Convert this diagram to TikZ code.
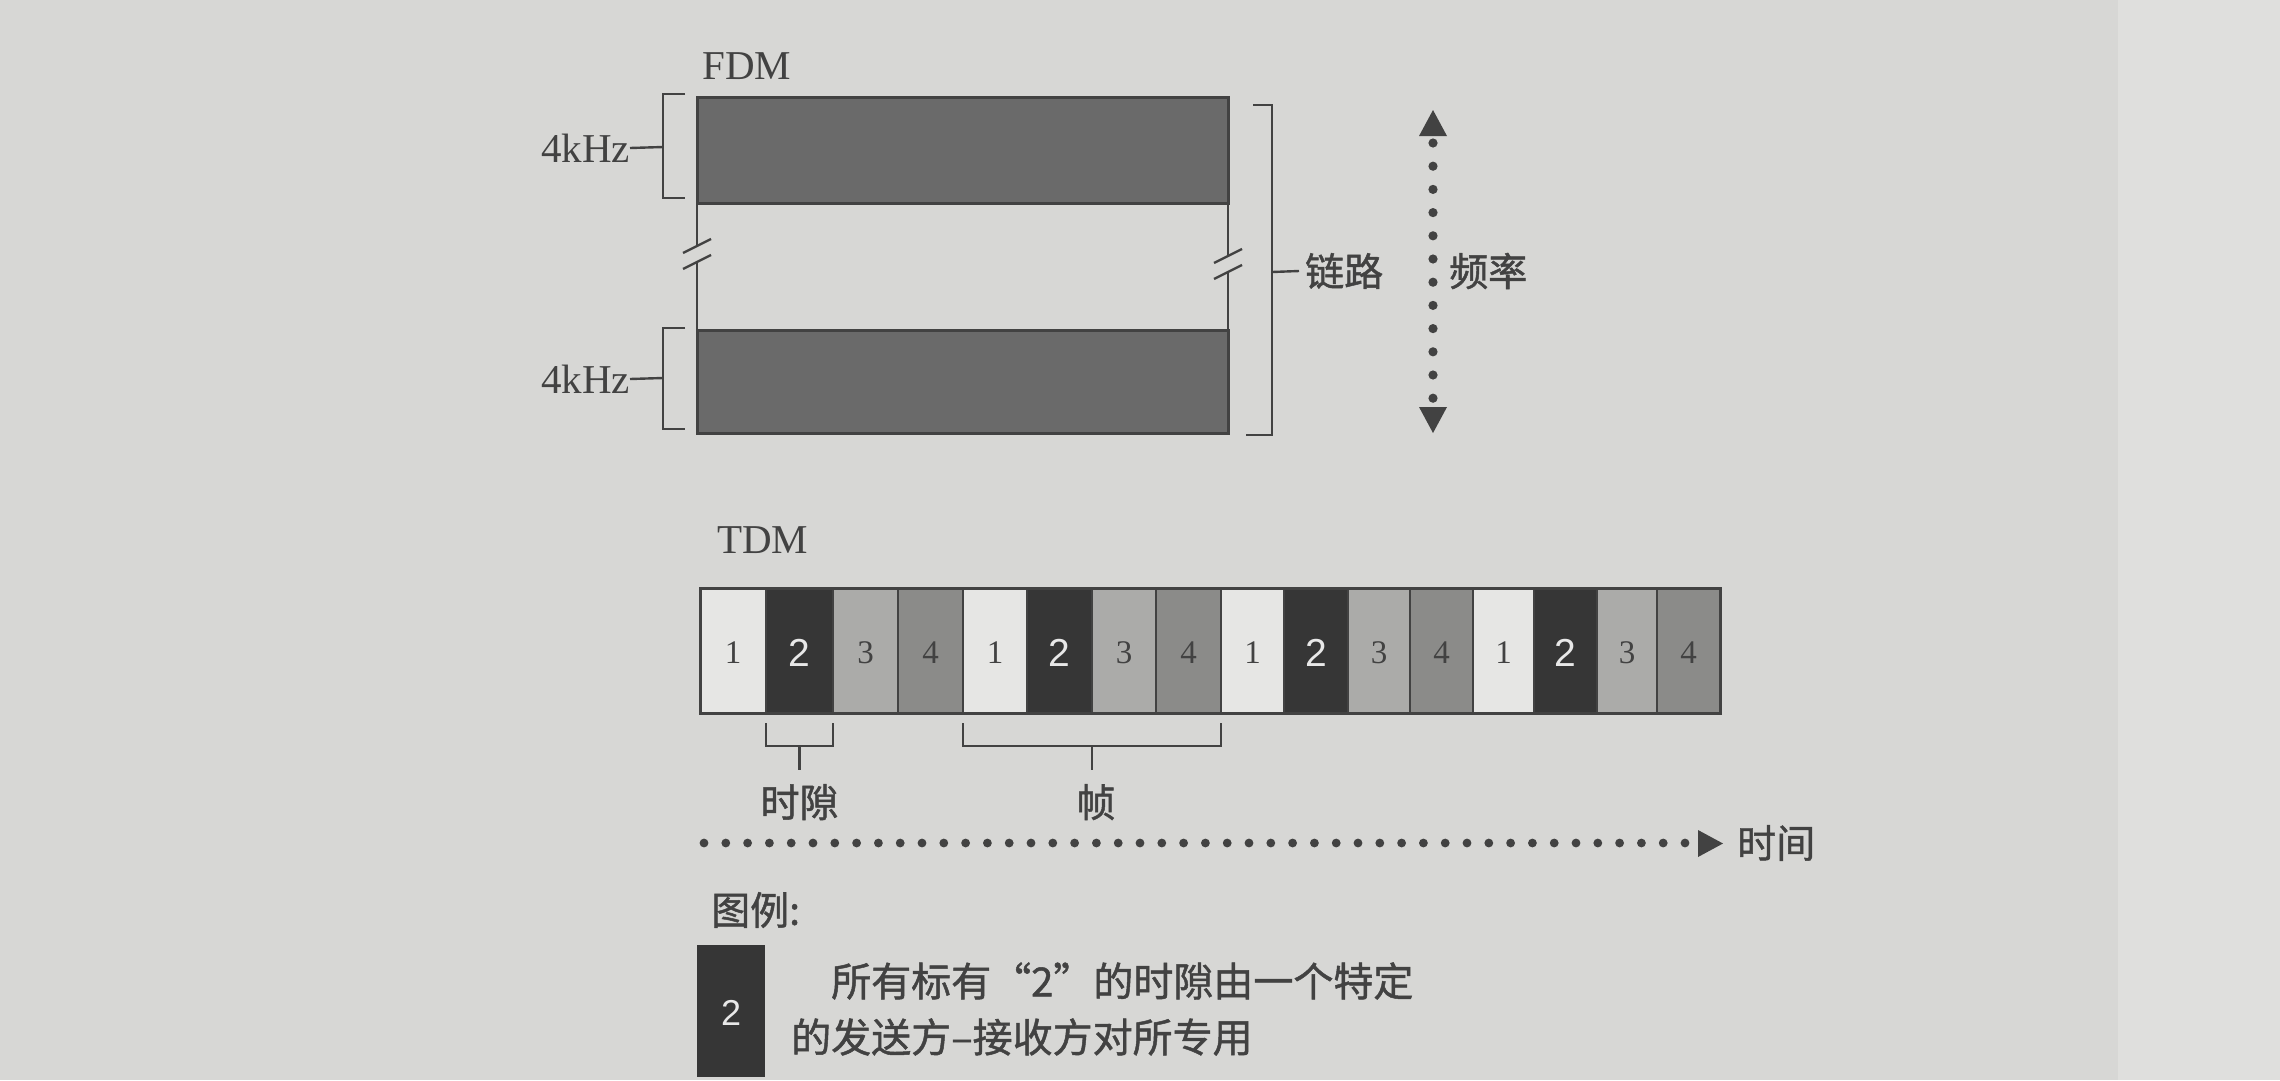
\documentclass[tikz,border=0pt]{standalone}
\usepackage{fontspec}
\setmainfont{Liberation Serif}
\newfontfamily\cjk[FakeBold=1.2]{Noto Sans CJK SC}
\newfontfamily\arialf{Liberation Sans}
\usetikzlibrary{calc}
\definecolor{bg}{HTML}{D7D7D5}
\definecolor{pagebg}{HTML}{DFDFDD}
\definecolor{ink}{HTML}{424242}
\definecolor{fdmbar}{HTML}{6A6A6A}
\definecolor{cA}{HTML}{E6E6E4}
\definecolor{cB}{HTML}{363636}
\definecolor{cC}{HTML}{ABABA9}
\definecolor{cD}{HTML}{8B8B89}
\definecolor{wdigit}{HTML}{E8E8E8}
\tikzset{
  bandbox/.style={draw=ink, fill=fdmbar, line width=3pt, inner sep=0pt, outer sep=0pt, anchor=north west},
  cellbox/.style={draw=ink, line width=2.5pt, inner sep=0pt, outer sep=0pt, anchor=north west, minimum height=125pt},
  brk/.style={draw=ink, line width=2.4pt},
  lat/.style={text=ink, font=\fontsize{41}{49}\selectfont, inner sep=0pt},
  zh/.style={text=ink, font=\cjk\fontsize{39}{46}\selectfont, inner sep=0pt},
  zhl/.style={text=ink, font=\cjk\fontsize{40}{48}\selectfont, inner sep=0pt},
  serifdigit/.style={text=ink, font=\fontsize{33}{40}\selectfont},
  sansdigit/.style={text=wdigit, font=\arialf\fontsize{39}{46}\selectfont},
  dotmark/.style={fill=ink}
}
\begin{document}
\begin{tikzpicture}[x=1pt,y=-1pt]
\fill[bg] (0,0) rectangle (2280,1080);
\fill[pagebg] (2118,0) rectangle (2280,1080);
\useasboundingbox (0,0) rectangle (2280,1080);

% ---------------- FDM ----------------
\node[lat, anchor=west] (fdm) at (702,66) {FDM};
\node[bandbox, minimum width=531pt, minimum height=106pt] (bar1) at (697,97) {};
\node[bandbox, minimum width=531pt, minimum height=103pt] (bar2) at (697,330) {};

% left side with break
\coordinate (lb1) at (697,246);
\coordinate (lb2) at (697,262);
\draw[brk] (lb1 |- bar1.south) -- (lb1);
\draw[brk] (lb2) -- (lb2 |- bar2.north);
\draw[brk] ($(lb1)+(-14,7)$) -- ($(lb1)+(14,-7)$);
\draw[brk] ($(lb2)+(-14,7)$) -- ($(lb2)+(14,-7)$);
% right side with break
\coordinate (rb1) at (1228,256);
\coordinate (rb2) at (1228,272);
\draw[brk] (rb1 |- bar1.south) -- (rb1);
\draw[brk] (rb2) -- (rb2 |- bar2.north);
\draw[brk] ($(rb1)+(-14,7)$) -- ($(rb1)+(14,-7)$);
\draw[brk] ($(rb2)+(-14,7)$) -- ($(rb2)+(14,-7)$);

% left brackets and 4kHz labels
\draw[brk] (685,94) -- (663,94) -- (663,198) -- (685,198);
\coordinate (lt1) at (663,147);
\node[lat, anchor=east] (khz1) at (630,148) {4kHz};
\draw[brk] (khz1.east) -- (lt1);
\draw[brk] (685,328) -- (663,328) -- (663,429) -- (685,429);
\coordinate (lt2) at (663,378);
\node[lat, anchor=east] (khz2) at (630,379) {4kHz};
\draw[brk] (khz2.east) -- (lt2);

% right bracket and link label
\draw[brk] (1253,105) -- (1272,105) -- (1272,435) -- (1246,435);
\coordinate (rt) at (1272,272);
\node[zh, anchor=west] (link) at (1305,271) {链路};
\draw[brk] (rt) -- ($(link.west)+(-6,0)$);

% frequency dotted arrow
\foreach \i in {0,...,11} {
  \fill[dotmark] (1433,{143+\i*23.2}) circle (4.6pt);
}
\fill[ink] (1433,110) -- (1419,136) -- (1447,136) -- cycle;
\fill[ink] (1433,433) -- (1419,407) -- (1447,407) -- cycle;
\node[zh, anchor=west] (freq) at (1449,271) {频率};

% ---------------- TDM ----------------
\node[lat, anchor=west] (tdm) at (717,540) {TDM};
\foreach \a/\b/\n/\c [count=\k] in {
  700/766/1/cA, 766/833/2/cB, 833/898/3/cC, 898/963/4/cD,
  963/1027/1/cA, 1027/1092/2/cB, 1092/1156/3/cC, 1156/1221/4/cD,
  1221/1284/1/cA, 1284/1348/2/cB, 1348/1410/3/cC, 1410/1473/4/cD,
  1473/1534/1/cA, 1534/1597/2/cB, 1597/1657/3/cC, 1657/1720/4/cD} {
  \pgfmathsetmacro{\w}{\b-\a}
  \node[cellbox, fill=\c, minimum width=\w pt] (c\k) at (\a,588) {};
  \ifnum\n=2
    \node[sansdigit] at ($(c\k.center)+(0,2)$) {\n};
  \else
    \node[serifdigit] at ($(c\k.center)+(0,2)$) {\n};
  \fi
}
\draw[draw=ink, line width=3pt] (c1.north west) rectangle (c16.south east);

% slot bracket
\coordinate (sL) at ($(c2.south west)+(0,10)$);
\coordinate (sR) at ($(c2.south east)+(0,10)$);
\draw[brk] (sL) -- ++(0,23) -| (sR);
\coordinate (sM) at ($(sL)!0.5!(sR)+(0,23)$);
\draw[brk] (sM) -- ++(0,24);
\node[zh, anchor=north] (slot) at ($(sM)+(0,38)$) {时隙};

% frame bracket
\coordinate (fL) at ($(c5.south west)+(0,10)$);
\coordinate (fR) at ($(c8.south east)+(0,10)$);
\draw[brk] (fL) -- ++(0,23) -| (fR);
\coordinate (fM) at ($(fL)!0.5!(fR)+(0,23)$);
\draw[brk] (fM) -- ++(0,24);
\node[zh, anchor=north] (frame) at ($(fM)+(4,38)$) {帧};

% time dotted arrow
\foreach \i in {0,...,45} {
  \fill[dotmark] ({704+\i*21.8},843) circle (4.4pt);
}
\fill[ink] (1723,843.5) -- (1698,830) -- (1698,857) -- cycle;
\node[zh, anchor=west] (time) at (1737,843) {时间};

% ---------------- legend ----------------
\node[zh, anchor=west] (legend) at (711,910) {图例:};
\node[fill=cB, draw=none, minimum width=68pt, minimum height=132pt, inner sep=0pt, anchor=north west] (lbox) at (697,945) {};
\node[text=wdigit, font=\arialf\fontsize{36}{42}\selectfont] at ($(lbox.center)+(0,2)$) {2};
\node[zhl, anchor=west] (lt1txt) at (831,981) {所有标有“2”的时隙由一个特定};
\node[zhl, anchor=west] (lt2txt) at (791,1037) {的发送方–接收方对所专用};
\end{tikzpicture}
\end{document}
